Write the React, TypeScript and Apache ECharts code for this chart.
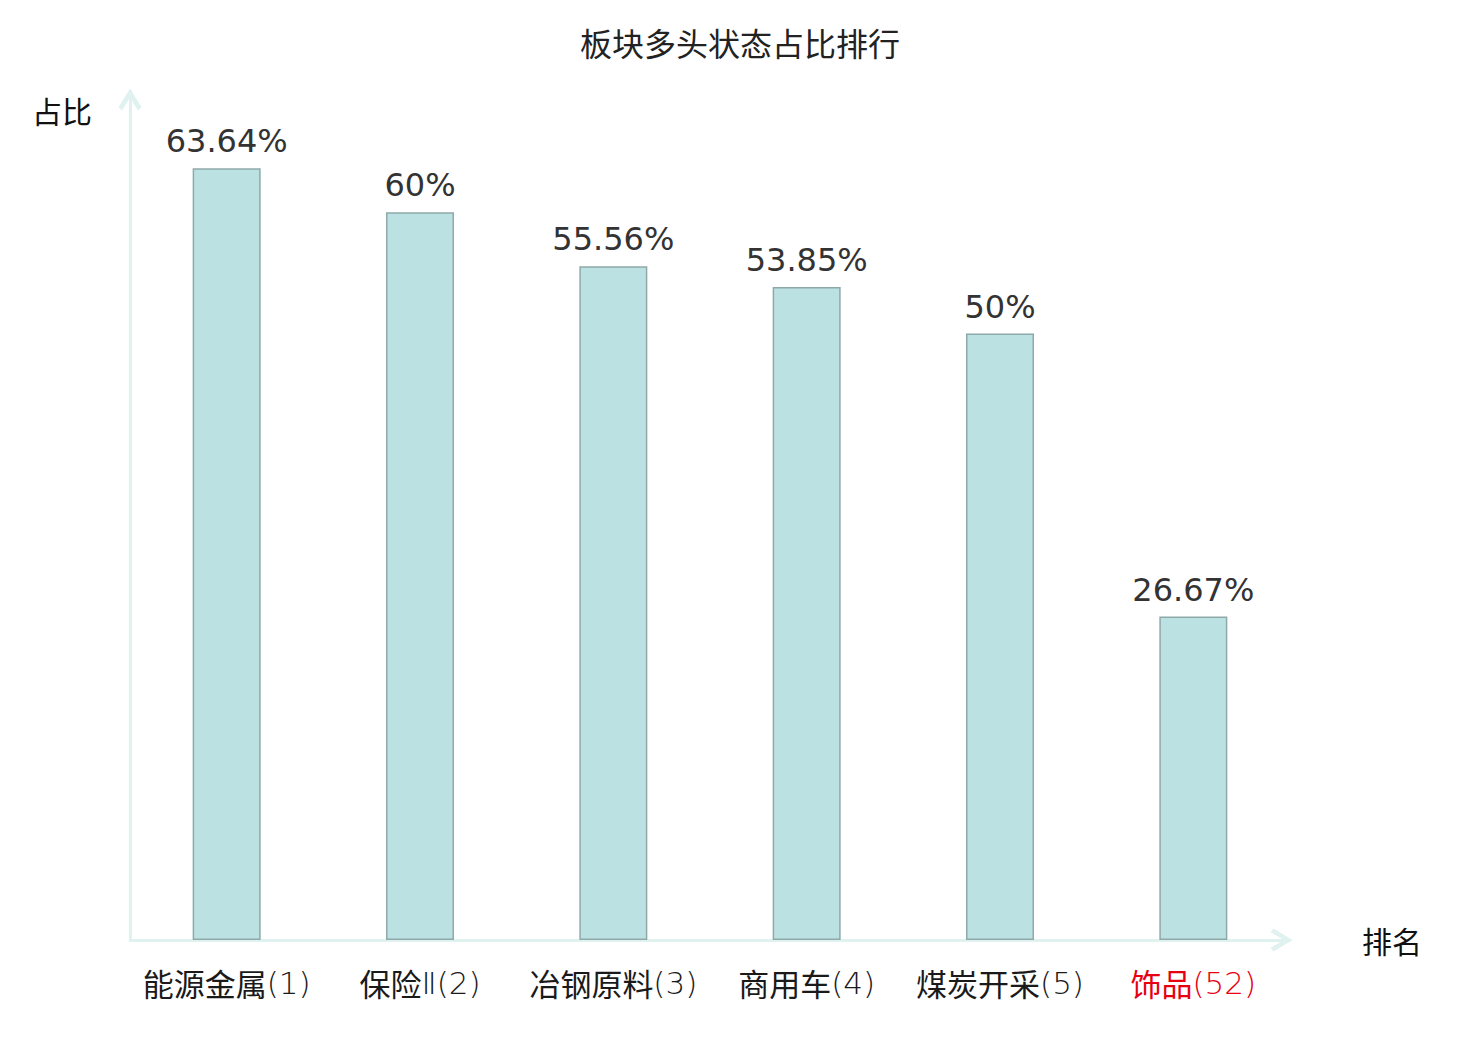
import React, { useEffect, useRef } from "react";
import * as echarts from "echarts";

const categories = ["能源金属(1)", "保险Ⅱ(2)", "冶钢原料(3)", "商用车(4)", "煤炭开采(5)", "饰品(52)"];
const values = [63.64, 60, 55.56, 53.85, 50, 26.67];
const highlightIndex = 5;

const chevron = "path://M11,0 L22,18 L18.6,21 L11,8.4 L3.4,21 L0,18 Z";

function splitLabel(v: string, red: boolean) {
  const m = v.match(/^([\u4e00-\u9fff]+)(.*)$/);
  const cjk = m ? m[1] : v;
  const rest = m ? m[2] : "";
  return red ? `{rc|${cjk}}{rl|${rest}}` : `{nc|${cjk}}{nl|${rest}}`;
}

export default function App() {
  const ref = useRef<HTMLDivElement>(null);
  useEffect(() => {
    document.body.style.margin = "0";
    const chart = echarts.init(ref.current!, undefined, { renderer: "svg" });
    const axisColor = "#dff2f0";
    const cjkFont = "'Noto Sans CJK SC'";
    const latinFont = "'DejaVu Sans', 'Noto Sans CJK SC'";
    const axisLine = {
      show: true,
      lineStyle: { color: axisColor, width: 3 },
      symbol: ["none", chevron],
      symbolSize: [24, 22],
      symbolOffset: [0, -8.5],
    };
    chart.setOption({
      animation: false,
      backgroundColor: "#ffffff",
      title: {
        text: "板块多头状态占比排行",
        left: "center",
        top: 21,
        textStyle: { fontSize: 32, fontWeight: "normal", color: "#222", fontFamily: "Noto Sans CJK SC" },
      },
      grid: { left: 130, right: 190, top: 91, bottom: 100 },
      xAxis: {
        type: "category",
        data: categories,
        name: "排名",
        nameLocation: "end",
        nameGap: 72,
        nameTextStyle: { fontSize: 30, color: "#111", fontFamily: "Noto Sans CJK SC" },
        axisLine,
        axisTick: { show: false },
        axisLabel: {
          interval: 0,
          margin: 27,
          fontSize: 31,
          fontFamily: cjkFont,
          color: "#222",
          formatter: (v: string, i: number) => splitLabel(v, i === highlightIndex),
          rich: {
            nc: { fontSize: 31, color: "#1a1a1a", fontFamily: cjkFont, fontWeight: "normal" },
            nl: { fontSize: 31, color: "#1a1a1a", fontFamily: latinFont, fontWeight: 200 },
            rc: { fontSize: 31, color: "#e60012", fontFamily: cjkFont, fontWeight: "normal" },
            rl: { fontSize: 31, color: "#e60012", fontFamily: latinFont, fontWeight: 200 },
          },
        },
      },
      yAxis: {
        type: "value",
        min: 0,
        max: 70,
        name: "占比",
        nameLocation: "end",
        nameGap: -19,
        nameTextStyle: {
          fontSize: 30,
          color: "#111",
          fontFamily: "Noto Sans CJK SC",
          align: "right",
          verticalAlign: "middle",
          padding: [0, 38, 0, 0],
        },
        axisLine,
        axisTick: { show: false },
        axisLabel: { show: false },
        splitLine: { show: false },
      },
      series: [
        {
          type: "bar",
          data: values,
          barWidth: 68,
          itemStyle: { color: "#bce1e3", borderColor: "#8fa9a9", borderWidth: 1.5 },
          label: {
            show: true,
            position: "top",
            distance: 11,
            fontSize: 32,
            color: "#333",
            fontFamily: "DejaVu Sans",
            formatter: (p: any) => `${p.value}%`,
          },
        },
      ],
    });
    return () => chart.dispose();
  }, []);
  return <div ref={ref} style={{ width: 1480, height: 1040 }} />;
}
